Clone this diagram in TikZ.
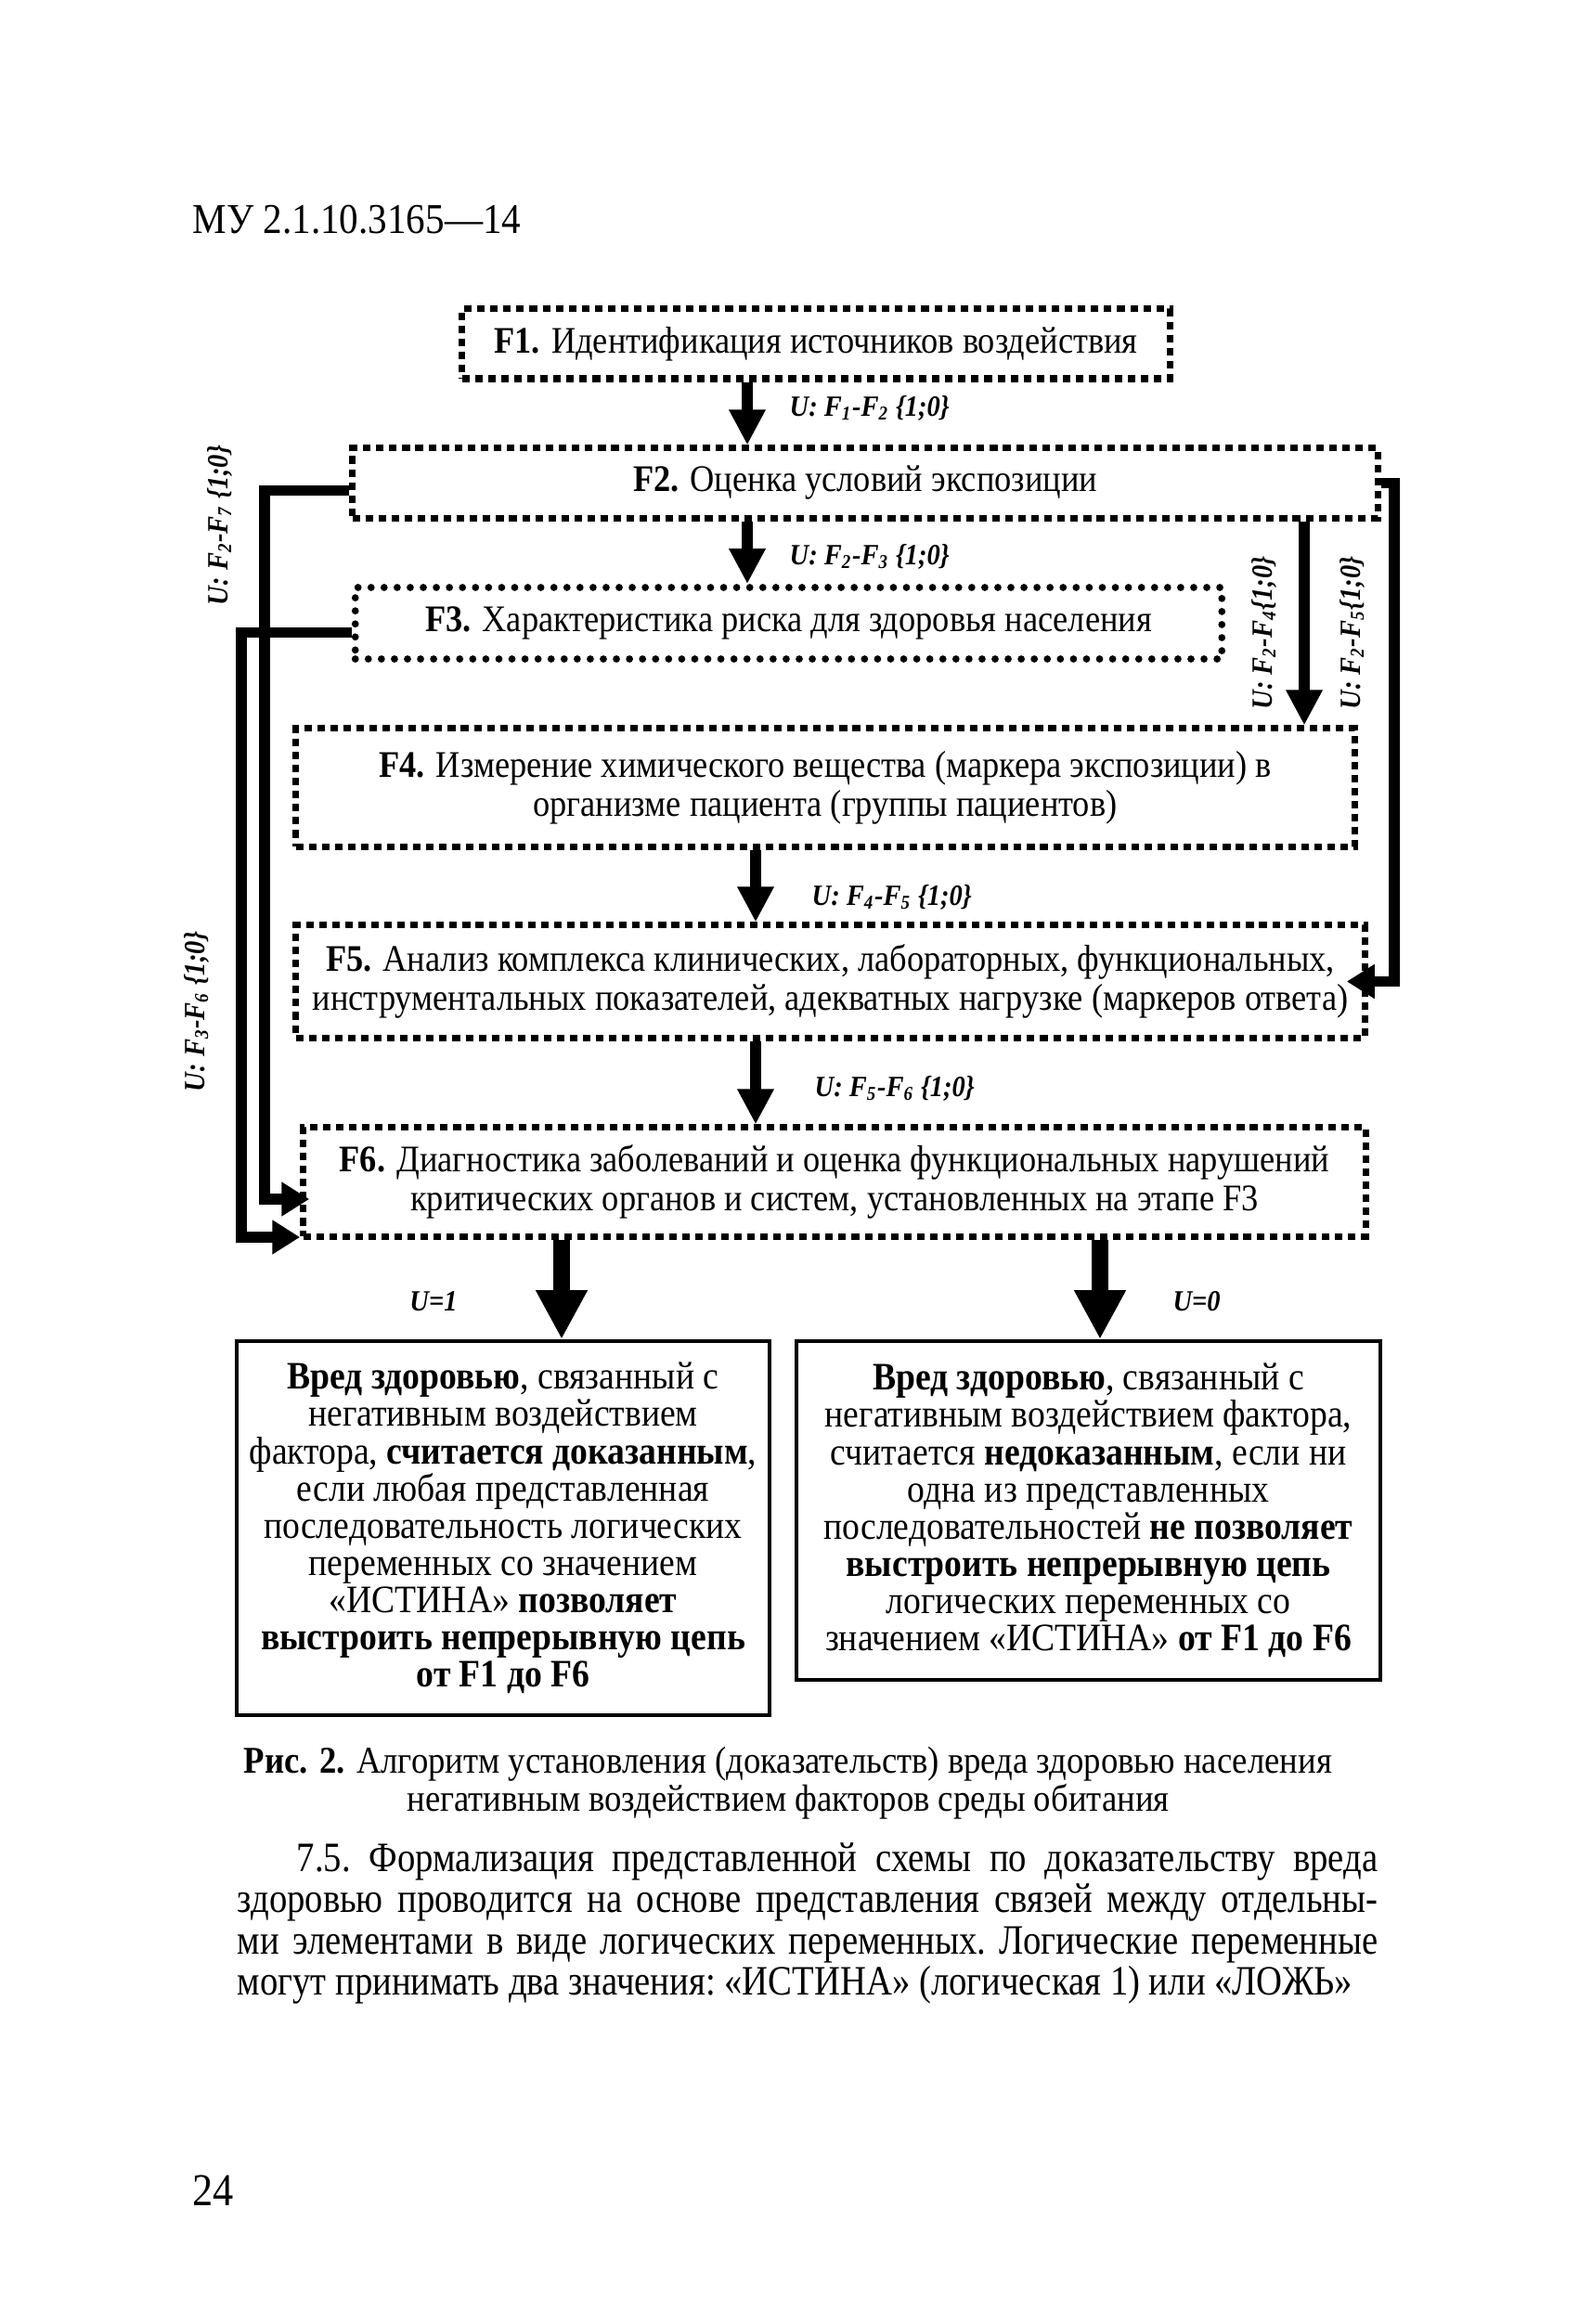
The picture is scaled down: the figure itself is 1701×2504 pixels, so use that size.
\documentclass[tikz,border=0pt]{standalone}
\usepackage{fontspec}
\setmainfont{Liberation Serif}[FakeStretch=0.9]
\newfontfamily\parfont{Liberation Serif}[FakeStretch=0.86]
\usepackage{tikz}
\usetikzlibrary{arrows.meta}

\tikzset{
  flowbox/.style={draw, line width=2pt, dash pattern=on 2.3pt off 1.7pt, align=center, inner sep=0pt, font=\fontsize{11.5}{12}\selectfont},
  dotbox/.style={draw, line width=2.2pt, line cap=round, dash pattern=on 0pt off 4pt, align=center, inner sep=0pt, font=\fontsize{11.5}{12}\selectfont},
  resbox/.style={draw, line width=1.1pt, align=center, inner sep=0pt, font=\fontsize{11.9}{11.4}\selectfont},
  varlabel/.style={font=\fontsize{9}{10}\selectfont\bfseries\itshape, inner sep=0pt},
  mainarrow/.style={line width=3.4pt, -{Triangle[width=10.5pt,length=10.8pt]}},
  bigarrow/.style={line width=5pt, -{Triangle[width=14.8pt,length=15pt]}},
  loopline/.style={line width=3.4pt, -{Triangle[width=10pt,length=8.5pt]}}
}

\begin{document}
\begin{tikzpicture}[x=0.01cm, y=-0.01cm]
  \useasboundingbox (0,0) rectangle (1701,2504);
  % nodes %
  \node[anchor=west, inner sep=0pt, font=\fontsize{13}{13}\selectfont] (head) at (207,237) {МУ 2.1.10.3165—14};
  \node[flowbox, minimum width=7.62cm, minimum height=0.75cm] (F1) at (879,370.5) {\textbf{F1.} Идентификация источников воздействия};
  \node[flowbox, minimum width=11.04cm, minimum height=0.75cm] (F2) at (932,520.5) {\textbf{F2.} Оценка условий экспозиции};
  \node[dotbox, minimum width=9.33cm, minimum height=0.77cm] (F3) at (849.5,671.5) {\textbf{F3.} Характеристика риска для здоровья населения};
  \node[flowbox, minimum width=11.40cm, minimum height=1.27cm] (F4) at (889,848.5) {\textbf{F4.} Измерение химического вещества (маркера экспозиции) в\\ организме пациента (группы пациентов)};
  \node[flowbox, minimum width=11.51cm, minimum height=1.21cm] (F5) at (894.5,1057.5) {\textbf{F5.} Анализ комплекса клинических, лабораторных, функциональных,\\ инструментальных показателей, адекватных нагрузке (маркеров ответа)};
  \node[flowbox, minimum width=11.44cm, minimum height=1.17cm] (F6) at (899,1273.5) {\textbf{F6.} Диагностика заболеваний и оценка функциональных нарушений\\ критических органов и систем, установленных на этапе F3};
  \node[resbox, minimum width=5.74cm, minimum height=4.03cm] (yes) at (542,1646.5) {\textbf{Вред здоровью}, связанный с\\ негативным воздействием\\ фактора, \textbf{считается доказанным},\\ если любая представленная\\ последовательность логических\\ переменных со значением\\ «ИСТИНА» \textbf{позволяет}\\ \textbf{выстроить непрерывную цепь}\\ \textbf{от F1 до F6}};
  \node[resbox, minimum width=6.29cm, minimum height=3.65cm] (no) at (1172.5,1627.5) {\textbf{Вред здоровью}, связанный с\\ негативным воздействием фактора,\\ считается \textbf{недоказанным}, если ни\\ одна из представленных\\ последовательностей \textbf{не позволяет}\\ \textbf{выстроить непрерывную цепь}\\ логических переменных со\\ значением «ИСТИНА» \textbf{от F1 до F6}};
  \node[align=center, inner sep=0pt, font=\fontsize{11.6}{10.8}\selectfont] (cap) at (849,1921) {\textbf{Рис. 2.} Алгоритм установления (доказательств) вреда здоровью населения\\ негативным воздействием факторов среды обитания};
  \node[anchor=north west, inner sep=0pt, text width=12.28cm, align=justify, font=\parfont\fontsize{12.8}{12.6}\selectfont] (par) at (255,1985) {\frenchspacing\parfillskip=0pt\hspace*{0.64cm}7.5. Формализация представленной схемы по доказательству вреда\linebreak здоровью проводится на основе представления связей между отдельны-\linebreak ми элементами в виде логических переменных. Логические переменные\linebreak могут принимать два значения: «ИСТИНА» (логическая 1) или «ЛОЖЬ»};
  \node[anchor=west, inner sep=0pt, font=\fontsize{14}{14}\selectfont] (page) at (207,2360) {24};
  % labels %
  \node[varlabel, anchor=west] (l12) at (850,440) {U: F\textsubscript{1}-F\textsubscript{2} \{1;0\}};
  \node[varlabel, anchor=west] (l23) at (850,600) {U: F\textsubscript{2}-F\textsubscript{3} \{1;0\}};
  \node[varlabel, anchor=west] (l45) at (874,967) {U: F\textsubscript{4}-F\textsubscript{5} \{1;0\}};
  \node[varlabel, anchor=west] (l56) at (877,1173) {U: F\textsubscript{5}-F\textsubscript{6} \{1;0\}};
  \node[varlabel, rotate=90] (l27) at (237,566) {U: F\textsubscript{2}-F\textsubscript{7} \{1;0\}};
  \node[varlabel, rotate=90] (l36) at (212,1090) {U: F\textsubscript{3}-F\textsubscript{6} \{1;0\}};
  \node[varlabel, rotate=90] (l24) at (1362,682) {U: F\textsubscript{2}-F\textsubscript{4}\{1;0\}};
  \node[varlabel, rotate=90] (l25) at (1457,682) {U: F\textsubscript{2}-F\textsubscript{5}\{1;0\}};
  \node[varlabel] (u1lab) at (467,1402) {U=1};
  \node[varlabel] (u0lab) at (1289,1402) {U=0};
  % edges %
  \coordinate (m1) at (805,0);
  \coordinate (m2) at (814,0);
  \coordinate (r24) at (1405,0);
  \coordinate (r25) at (1502,1057.5);
  \coordinate (l1) at (285,1292);
  \coordinate (l2) at (260,1333);
  \coordinate (u1) at (605,0);
  \coordinate (u0) at (1185,0);
  \draw[mainarrow] (F1.south -| m1) -- (F2.north -| m1);
  \draw[mainarrow] (F2.south -| m1) -- (F3.north -| m1);
  \draw[mainarrow] (F4.south -| m2) -- (F5.north -| m2);
  \draw[mainarrow] (F5.south -| m2) -- (F6.north -| m2);
  \draw[mainarrow] (F2.south -| r24) -- (F4.north -| r24);
  \draw[loopline, shorten >=-0.23cm] (F2.east) -| (r25) -- (F5.east);
  \draw[loopline, shorten >=-0.1cm] ([yshift=-0.08cm]F2.west) -| (l1) -- (F6.west |- l1);
  \draw[loopline] ([yshift=-0.1cm]F3.west) -| (l2) -- (F6.south west |- l2);
  \draw[bigarrow] (F6.south -| u1) -- (yes.north -| u1);
  \draw[bigarrow] (F6.south -| u0) -- (no.north -| u0);
\end{tikzpicture}
\end{document}
